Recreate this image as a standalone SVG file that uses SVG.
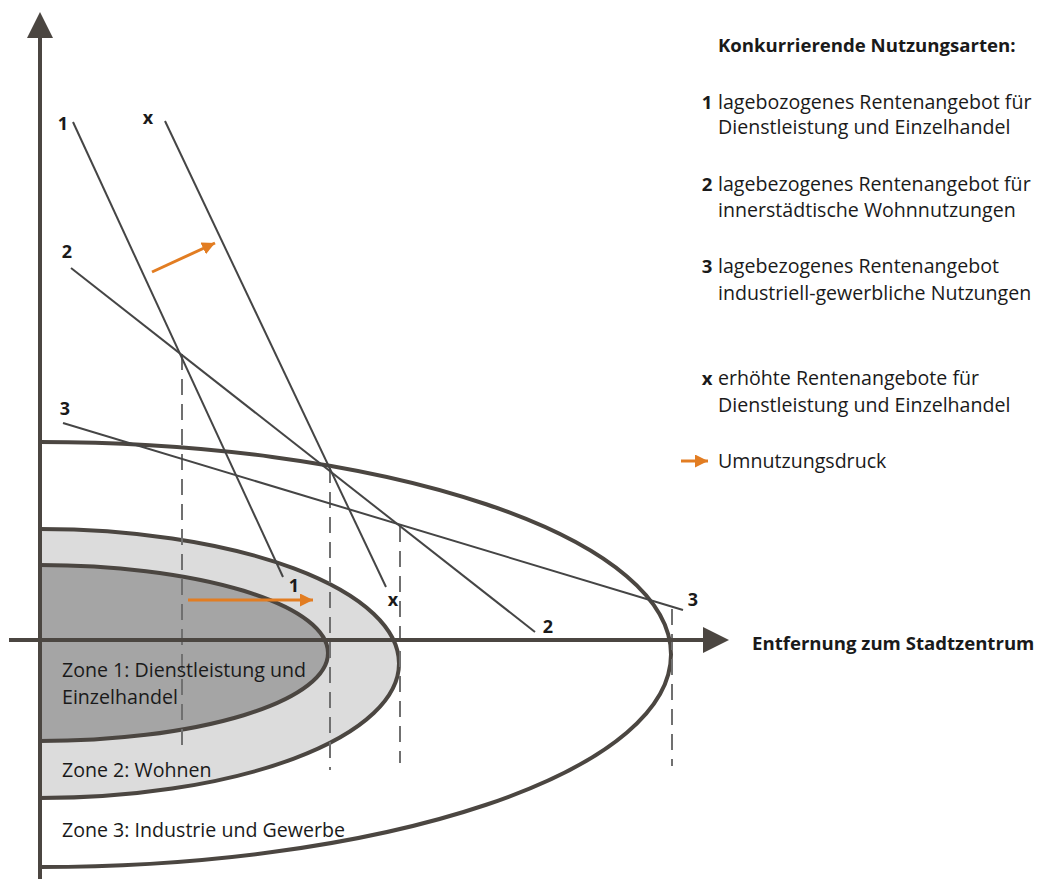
<svg xmlns="http://www.w3.org/2000/svg" width="1039" height="879" viewBox="0 0 1039 879">
<defs>
<style>
.zone{stroke:#4b4641;stroke-width:4}
.axis{stroke:#4b4641;stroke-width:4;fill:none}
.ah{fill:#4b4641}
.rent{stroke:#454545;stroke-width:2;fill:none}
.dash{stroke:#707070;stroke-width:2;stroke-dasharray:16 9;fill:none}
.orange{stroke:#e27d22;stroke-width:3;fill:none;marker-end:url(#oh)}
text{font-family:"Open Sans","Noto Sans","Liberation Sans",sans-serif;fill:#1a1a1a}
.lbl{font-size:18px;font-weight:bold}
.leg{font-size:19.6px}
.legb{font-size:18.6px;font-weight:bold}
.zt{font-size:19.6px}
</style>
<marker id="oh" markerUnits="userSpaceOnUse" markerWidth="14" markerHeight="14" refX="13" refY="6.5" orient="auto">
<path d="M0,0 L13,6.5 L0,13 z" fill="#e27d22"/>
</marker>
</defs>
<rect width="1039" height="879" fill="#ffffff"/>
<g id="zone3"><path class="zone" d="M40,442 A631,212.5 0 0 1 40,867" fill="#ffffff"/></g>
<g id="zone2"><path class="zone" d="M40,529 A359,134.5 0 0 1 40,798" fill="#dcdcdc"/></g>
<g id="zone1"><path class="zone" d="M40,565 A288,88 0 0 1 40,741" fill="#a5a5a5"/></g>
<g id="connectors">
<line class="dash" x1="182" y1="354" x2="182" y2="752"/>
<line class="dash" x1="330" y1="467" x2="330" y2="770"/>
<line class="dash" x1="400" y1="526" x2="400" y2="763"/>
<line class="dash" x1="672" y1="609" x2="672" y2="766"/>
<line class="rent" x1="73" y1="122" x2="283" y2="577"/>
<line class="rent" x1="165" y1="121" x2="386" y2="587"/>
<line class="rent" x1="71" y1="268" x2="535" y2="632"/>
<line class="rent" x1="63" y1="423" x2="683" y2="610"/>
<line class="orange" x1="152" y1="272" x2="215" y2="243"/>
<line class="orange" x1="188" y1="600" x2="313" y2="600"/>
</g>
<g id="axes">
<line class="axis" x1="40" y1="30" x2="40" y2="879"/>
<polygon class="ah" points="40,12 27,38 53,38"/>
<line class="axis" x1="9" y1="640" x2="708" y2="640"/>
<polygon class="ah" points="729,640 703,627 703,653"/>
</g>
<g id="line-labels">
<text class="lbl" x="63" y="130" text-anchor="middle">1</text>
<text class="lbl" x="148" y="124" text-anchor="middle">x</text>
<text class="lbl" x="67" y="258" text-anchor="middle">2</text>
<text class="lbl" x="65" y="415" text-anchor="middle">3</text>
<text class="lbl" x="294" y="592" text-anchor="middle">1</text>
<text class="lbl" x="393" y="606" text-anchor="middle">x</text>
<text class="lbl" x="548" y="633" text-anchor="middle">2</text>
<text class="lbl" x="693" y="606" text-anchor="middle">3</text>
</g>
<g id="zone-labels">
<text class="zt" x="62" y="677">Zone 1: Dienstleistung und</text>
<text class="zt" x="62" y="704">Einzelhandel</text>
<text class="zt" x="62" y="777">Zone 2: Wohnen</text>
<text class="zt" x="62" y="837">Zone 3: Industrie und Gewerbe</text>
</g>
<g id="axis-label">
<text class="legb" x="752" y="650">Entfernung zum Stadtzentrum</text>
</g>
<g id="legend">
<text class="legb" x="718" y="52">Konkurrierende Nutzungsarten:</text>
<text class="legb" x="707" y="109" text-anchor="middle">1</text>
<text class="leg" x="718" y="109">lagebozogenes Rentenangebot für</text>
<text class="leg" x="718" y="134">Dienstleistung und Einzelhandel</text>
<text class="legb" x="707" y="191" text-anchor="middle">2</text>
<text class="leg" x="718" y="191">lagebezogenes Rentenangebot für</text>
<text class="leg" x="718" y="217">innerstädtische Wohnnutzungen</text>
<text class="legb" x="707" y="273" text-anchor="middle">3</text>
<text class="leg" x="718" y="273">lagebezogenes Rentenangebot</text>
<text class="leg" x="718" y="300">industriell-gewerbliche Nutzungen</text>
<text class="legb" x="707" y="385" text-anchor="middle">x</text>
<text class="leg" x="718" y="385">erhöhte Rentenangebote für</text>
<text class="leg" x="718" y="412">Dienstleistung und Einzelhandel</text>
<line class="orange" x1="681" y1="461" x2="708" y2="461"/>
<text class="leg" x="718" y="468">Umnutzungsdruck</text>
</g>
</svg>
